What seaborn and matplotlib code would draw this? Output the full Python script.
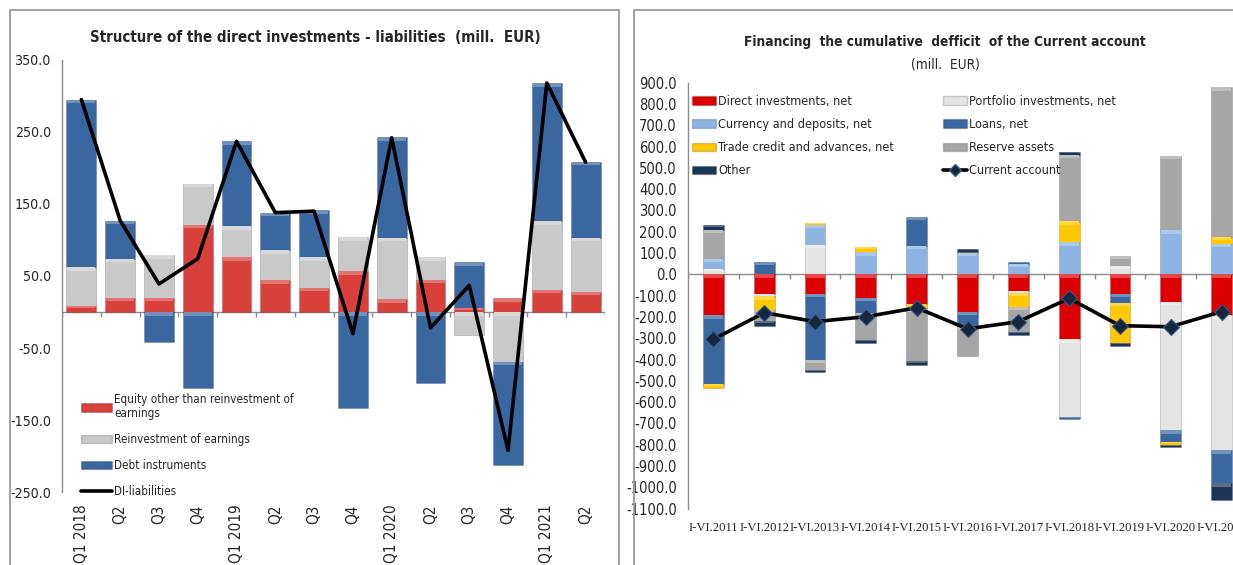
import numpy as np
import matplotlib
matplotlib.use("Agg")
import matplotlib.pyplot as plt
from matplotlib import font_manager as fm
from matplotlib.colors import to_rgb
from matplotlib.patches import Rectangle, Patch
from matplotlib.lines import Line2D
import seaborn as sns

# ---- Structure of the direct investments - liabilities, quarterly (mill. EUR)
quarters = ["Q1 2018", "Q2", "Q3", "Q4", "Q1 2019", "Q2", "Q3", "Q4",
            "Q1 2020", "Q2", "Q3", "Q4", "Q1 2021", "Q2"]
equity = [9, 20, 20, 121, 76, 44, 34, 57, 18, 45, 5, 19, 31, 28]
reinvested = [53, 54, 59, 57, 43, 42, 42, 47, 85, 31, -32, -69, 95, 75]
debt = [233, 53, -41, -105, 118, 52, 65, -134, 140, -98, 64, -143, 192, 106]
di_liabilities = [295, 127, 39, 74, 237, 138, 140, -30, 242, -22, 37, -192, 318, 208]

# ---- Financing the cumulative deficit of the current account, I-VI (mill. EUR)
periods = ["I-VI.2011", "I-VI.2012", "I-VI.2013", "I-VI.2014", "I-VI.2015", "I-VI.2016",
           "I-VI.2017", "I-VI.2018", "I-VI.2019", "I-VI.2020", "I-VI.2021"]
direct_inv = [-191, -90, -91, -110, -138, -175, -77, -305, -90, -129, -191]
portfolio = [25, -13, 139, 0, 0, 0, -9, -363, 38, -602, -634]
currency = [48, 0, 94, 103, 135, 102, 50, 150, 0, 207, 144]
loans = [-325, 60, -310, -72, 135, -71, 8, -13, -43, -55, -156]
trade_credit = [-19, -63, 8, 27, -22, 5, -66, 99, -191, -15, 30]
reserves = [137, -55, -47, -128, -248, -138, -117, 313, 50, 351, 704]
other = [22, -20, -11, -13, -18, 12, -15, 11, -11, -8, -79]
current_account = [-305, -180, -222, -199, -157, -256, -222, -113, -241, -246, -175]

sns.set_style("white")
plt.rcParams["font.family"] = ["Lato", "DejaVu Sans"]
plt.rcParams["axes.unicode_minus"] = False


def condensed_font(bold=False):
    """Pick a narrow sans face if one is installed, else fall back to Lato."""
    files = [f.fname for f in fm.fontManager.ttflist]
    wanted = (["LiberationSansNarrow-Bold", "DejaVuSansCondensed-Bold"] if bold
              else ["LiberationSansNarrow-Regular", "DejaVuSansCondensed.ttf"])
    for key in wanted:
        for path in files:
            if key in path:
                return fm.FontProperties(fname=path)
    return fm.FontProperties(family=["Lato", "DejaVu Sans"],
                             weight="bold" if bold else "normal")


REG = condensed_font(False)
BOLD = condensed_font(True)


def font(base, size):
    fp = base.copy()
    fp.set_size(size)
    return fp


W, H = 1233, 565
fig = plt.figure(figsize=(W / 100, H / 100), dpi=100)
fig.patch.set_facecolor("white")


def fx(px):
    return px / W


def fy(py):
    return 1 - py / H


AXIS_GREY = "#8C8C8C"
EDGE = (0, 0, 0, 0.18)


def tint(color, amount):
    r = np.array(to_rgb(color))
    return tuple(r + (1 - r) * amount)


def stacked(ax, x, layers, colors, width, bevel):
    """Stack positive and negative parts separately, with a light bevel on each top edge."""
    pos = np.zeros(len(x))
    neg = np.zeros(len(x))
    for vals, col in zip(layers, colors):
        v = np.asarray(vals, dtype=float)
        base = np.where(v >= 0, pos, neg)
        ax.bar(x, v, bottom=base, width=width, color=col,
               edgecolor=EDGE, linewidth=0.6, zorder=2)
        upper = np.maximum(base, base + v)
        hh = np.minimum(np.abs(v) * 0.4, bevel)
        ax.bar(x, hh, bottom=upper - hh, width=width * 0.94, color=tint(col, 0.28),
               linewidth=0, zorder=2.5)
        pos += np.clip(v, 0, None)
        neg += np.clip(v, None, 0)


def excel_axes(ax, n, tick_down, ylabel_size):
    for s in ("top", "right", "bottom"):
        ax.spines[s].set_visible(False)
    ax.spines["left"].set_color(AXIS_GREY)
    ax.spines["left"].set_linewidth(1.0)
    ax.axhline(0, color=AXIS_GREY, lw=1.0, zorder=1)
    bounds = np.arange(n + 1) - 0.5
    ax.vlines(bounds, -tick_down, 0, color=AXIS_GREY, lw=1.0, zorder=1)
    ax.set_xlim(-0.5, n - 0.5)
    ax.tick_params(axis="y", direction="out", length=5, width=1,
                   color=AXIS_GREY, pad=3)
    ax.tick_params(axis="x", length=0)
    for t in ax.get_yticklabels():
        t.set_fontproperties(font(REG, ylabel_size))
    ax.grid(False)


# ------------------------------------------------------------ left panel
fig.add_artist(Rectangle((fx(10), -0.1), fx(619) - fx(10), fy(10) + 0.1,
                         transform=fig.transFigure, fill=False,
                         edgecolor="#9A9A9A", lw=1.3))

axL = fig.add_axes([fx(62), fy(492), fx(605) - fx(62), fy(60) - fy(492)])
xL = np.arange(len(quarters))
colsL = ["#D8403C", "#C9C9C9", "#3B67A0"]
stacked(axL, xL, [equity, reinvested, debt], colsL, 0.77, 5)
sns.lineplot(x=xL, y=di_liabilities, ax=axL, color="black", lw=2.6,
             zorder=4, legend=False)
axL.set_ylim(-250, 350)
ticksL = np.arange(-250, 351, 100)
axL.set_yticks(ticksL)
axL.set_yticklabels([f"{v:.1f}" for v in ticksL])
axL.set_xticks(xL)
axL.set_xticklabels(quarters, rotation=90, va="top", ha="center",
                    fontproperties=font(REG, 11))
axL.tick_params(axis="x", pad=9)
excel_axes(axL, len(quarters), 7, 10.2)
axL.set_xlabel("")
axL.set_ylabel("")

fig.text(fx(315), fy(38), "Structure of the direct investments - liabilities  (mill.  EUR)",
         ha="center", va="center", fontproperties=font(BOLD, 10.8))

hL = [Patch(facecolor=c, edgecolor=EDGE) for c in colsL] + \
     [Line2D([], [], color="black", lw=2.6)]
lL = ["Equity other than reinvestment of\nearnings", "Reinvestment of earnings",
      "Debt instruments", "DI-liabilities"]
axL.legend(hL, lL, loc="lower left", bbox_to_anchor=(fx(81), fy(498)),
           bbox_transform=fig.transFigure, frameon=False, prop=font(REG, 8.4),
           handlelength=2.65, handleheight=0.7, handletextpad=0.2,
           labelspacing=1.1, borderpad=0, borderaxespad=0)

# ------------------------------------------------------------ right panel
fig.add_artist(Rectangle((fx(634), -0.1), 1.2, fy(10) + 0.1,
                         transform=fig.transFigure, fill=False,
                         edgecolor="#9A9A9A", lw=1.3))

axR = fig.add_axes([fx(688), fy(508.6), fx(1247) - fx(688), fy(82.7) - fy(508.6)])
xR = np.arange(len(periods))
colsR = ["#DC0000", "#E4E4E4", "#8DB4E2", "#3B67A0", "#FFC800", "#A6A6A6", "#1D3557"]
stacked(axR, xR, [direct_inv, portfolio, currency, loans, trade_credit, reserves, other],
        colsR, 0.41, 17)
sns.lineplot(x=xR, y=current_account, ax=axR, color="black", lw=2.6,
             marker="D", markersize=8, markerfacecolor="#17263F",
             markeredgecolor="#3A5A85", markeredgewidth=0.8, zorder=5, legend=False)
axR.set_ylim(-1100, 900)
ticksR = np.arange(-1100, 901, 100)
axR.set_yticks(ticksR)
axR.set_yticklabels([f"{v:.1f}" for v in ticksR])
axR.set_xticks(xR)
axR.set_xticklabels(periods, fontsize=9.1, family=["Liberation Serif", "DejaVu Serif"])
axR.tick_params(axis="x", pad=10)
excel_axes(axR, len(periods), 22, 10.5)
axR.set_xlabel("")
axR.set_ylabel("")

fig.text(fx(945), fy(42), "Financing  the cumulative  defficit  of the Current account",
         ha="center", va="center", fontproperties=font(BOLD, 9.8))
fig.text(fx(945), fy(65), "(mill.  EUR)", ha="center", va="center",
         fontproperties=font(REG, 9.8))


def P(c):
    return Patch(facecolor=c, edgecolor=EDGE)


hR = [P(colsR[0]), P(colsR[2]), P(colsR[4]), P(colsR[6]),
      P(colsR[1]), P(colsR[3]), P(colsR[5]),
      Line2D([], [], color="black", lw=2.6, marker="D", markersize=6,
             markerfacecolor="#17263F", markeredgecolor="#3A5A85")]
lR = ["Direct investments, net", "Currency and deposits, net",
      "Trade credit and advances, net", "Other",
      "Portfolio investments, net", "Loans, net", "Reserve assets", "Current account"]
axR.legend(hR, lR, ncol=2, loc="upper left", bbox_to_anchor=(fx(692), fy(95)),
           bbox_transform=fig.transFigure, frameon=False, prop=font(REG, 9.1),
           handlelength=1.9, handleheight=0.65, handletextpad=0.15,
           labelspacing=0.8, columnspacing=3.9, borderpad=0, borderaxespad=0)

fig.savefig("out.png", dpi=100, facecolor="white")
